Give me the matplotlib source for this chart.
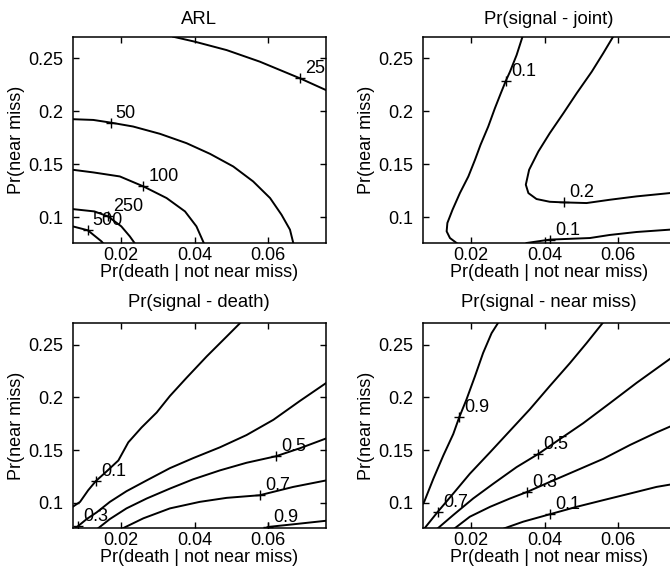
import matplotlib.pyplot as plt

plt.rcParams['font.family'] = ['Liberation Sans', 'DejaVu Sans']
plt.rcParams['font.size'] = 13

# axis ticks shared by all four panels
x_ticks = [0.02, 0.04, 0.06]
x_tick_labels = ['0.02', '0.04', '0.06']
y_ticks = [0.1, 0.15, 0.2, 0.25]
y_tick_labels = ['0.1', '0.15', '0.2', '0.25']

# ARL contours
arl_levels = ['25', '50', '100', '250', '500']
arl_x = [
    [0.0342, 0.0401, 0.0487, 0.0577, 0.0686, 0.0756],
    [0.0069, 0.0125, 0.0172, 0.0233, 0.0306, 0.0378, 0.0442, 0.0505, 0.0559, 0.0605, 0.0636, 0.0659, 0.0668],
    [0.0069, 0.0125, 0.0197, 0.0261, 0.0324, 0.0374, 0.0405, 0.0425],
    [0.0069, 0.0128, 0.0165, 0.0201, 0.0224, 0.0237],
    [0.0069, 0.0110, 0.0147, 0.0151],
]
arl_y = [
    [0.2704, 0.2657, 0.2578, 0.2469, 0.2312, 0.2202],
    [0.1926, 0.1919, 0.1894, 0.1857, 0.1788, 0.1700, 0.1599, 0.1480, 0.1339, 0.1182, 0.1025, 0.0884, 0.0758],
    [0.1449, 0.1424, 0.1386, 0.1292, 0.1182, 0.1056, 0.0915, 0.0758],
    [0.1078, 0.1056, 0.1009, 0.0915, 0.0821, 0.0758],
    [0.0915, 0.0878, 0.0774, 0.0758],
]
arl_label_x = [0.0686, 0.0172, 0.0261, 0.0165, 0.0110]
arl_label_y = [0.2312, 0.1894, 0.1292, 0.1009, 0.0878]

# Pr(signal - joint)
joint_levels = ['0.1', '0.2', '0.1']
joint_x = [
    [0.0340, 0.0324, 0.0306, 0.0295, 0.0281, 0.0265, 0.0247, 0.0226, 0.0211, 0.0193, 0.0170, 0.0150, 0.0136, 0.0134, 0.0143, 0.0161],
    [0.0586, 0.0559, 0.0528, 0.0487, 0.0451, 0.0414, 0.0383, 0.0358, 0.0349, 0.0356, 0.0378, 0.0414, 0.0453, 0.0514, 0.0577, 0.0650, 0.0740, 0.0756],
    [0.0351, 0.0414, 0.0523, 0.0577, 0.0650, 0.0740, 0.0756],
]
joint_y = [
    [0.2704, 0.2531, 0.2374, 0.2290, 0.2170, 0.2029, 0.1857, 0.1684, 0.1543, 0.1386, 0.1229, 0.1072, 0.0947, 0.0868, 0.0805, 0.0758],
    [0.2704, 0.2547, 0.2374, 0.2170, 0.1982, 0.1794, 0.1621, 0.1449, 0.1308, 0.1229, 0.1173, 0.1147, 0.1141, 0.1135, 0.1166, 0.1198, 0.1229, 0.1235],
    [0.0758, 0.0790, 0.0805, 0.0834, 0.0862, 0.0884, 0.0890],
]
joint_label_x = [0.0295, 0.0453, 0.0414]
joint_label_y = [0.2290, 0.1141, 0.0790]

# Pr(signal - death)
death_levels = ['0.1', '0.3', '0.5', '0.7', '0.9']
death_x = [
    [0.0069, 0.0089, 0.0111, 0.0132, 0.0161, 0.0193, 0.0220, 0.0256, 0.0297, 0.0333, 0.0378, 0.0433, 0.0487, 0.0523],
    [0.0075, 0.0083, 0.0107, 0.0134, 0.0170, 0.0215, 0.0270, 0.0333, 0.0396, 0.0469, 0.0541, 0.0614, 0.0686, 0.0758],
    [0.0138, 0.0170, 0.0215, 0.0270, 0.0333, 0.0396, 0.0469, 0.0541, 0.0621, 0.0686, 0.0758],
    [0.0205, 0.0261, 0.0333, 0.0414, 0.0487, 0.0577, 0.0668, 0.0758],
    [0.0591, 0.0600, 0.0668, 0.0758],
]
death_y = [
    [0.0962, 0.1009, 0.1119, 0.1207, 0.1298, 0.1402, 0.1574, 0.1715, 0.1857, 0.2014, 0.2186, 0.2390, 0.2578, 0.2704],
    [0.0758, 0.0777, 0.0846, 0.0909, 0.1009, 0.1110, 0.1213, 0.1329, 0.1424, 0.1527, 0.1643, 0.1788, 0.1967, 0.2139],
    [0.0758, 0.0846, 0.0947, 0.1041, 0.1135, 0.1223, 0.1308, 0.1380, 0.1442, 0.1518, 0.1612],
    [0.0758, 0.0853, 0.0947, 0.1009, 0.1047, 0.1072, 0.1151, 0.1213],
    [0.0758, 0.0771, 0.0796, 0.0830],
]
death_label_x = [0.0132, 0.0083, 0.0621, 0.0577, 0.0600]
death_label_y = [0.1207, 0.0777, 0.1442, 0.1072, 0.0771]

# Pr(signal - near miss)
near_levels = ['0.9', '0.7', '0.5', '0.3', '0.1']
near_x = [
    [0.0069, 0.0073, 0.0098, 0.0125, 0.0152, 0.0168, 0.0188, 0.0211, 0.0233, 0.0256, 0.0273],
    [0.0074, 0.0110, 0.0152, 0.0197, 0.0252, 0.0306, 0.0360, 0.0414, 0.0469, 0.0514, 0.0557],
    [0.0110, 0.0152, 0.0206, 0.0261, 0.0324, 0.0383, 0.0442, 0.0505, 0.0577, 0.0650, 0.0740, 0.0756],
    [0.0156, 0.0197, 0.0252, 0.0306, 0.0353, 0.0414, 0.0487, 0.0559, 0.0632, 0.0704, 0.0756],
    [0.0291, 0.0342, 0.0416, 0.0487, 0.0559, 0.0632, 0.0704, 0.0756],
]
near_y = [
    [0.0990, 0.1009, 0.1229, 0.1449, 0.1653, 0.1810, 0.1982, 0.2202, 0.2422, 0.2610, 0.2704],
    [0.0758, 0.0915, 0.1088, 0.1276, 0.1480, 0.1684, 0.1888, 0.2108, 0.2327, 0.2516, 0.2704],
    [0.0758, 0.0884, 0.1041, 0.1182, 0.1339, 0.1464, 0.1606, 0.1756, 0.1945, 0.2139, 0.2365, 0.2396],
    [0.0758, 0.0868, 0.0962, 0.1041, 0.1104, 0.1198, 0.1308, 0.1417, 0.1549, 0.1668, 0.1747],
    [0.0758, 0.0821, 0.0893, 0.0962, 0.1025, 0.1088, 0.1151, 0.1182],
]
near_label_x = [0.0168, 0.0110, 0.0383, 0.0353, 0.0416]
near_label_y = [0.1810, 0.0915, 0.1464, 0.1104, 0.0893]


def draw_panel(ax, title, xs, ys, levels, lx, ly, title_pad):
    for x, y in zip(xs, ys):
        ax.plot(x, y, color='black', lw=1.4)
    ax.plot(lx, ly, '+', color='black', ms=7, mew=1.0)
    for t, a, b in zip(levels, lx, ly):
        ax.annotate(t, (a, b), xytext=(5, 5), textcoords='offset pixels',
                    ha='left', va='baseline')
    ax.set_xlim(0.0069, 0.0756)
    ax.set_ylim(0.0758, 0.2704)
    ax.set_xticks(x_ticks)
    ax.set_xticklabels(x_tick_labels)
    ax.set_yticks(y_ticks)
    ax.set_yticklabels(y_tick_labels)
    ax.tick_params(axis='both', direction='in', top=True, right=True, length=4, width=1)
    ax.tick_params(axis='x', pad=3)
    ax.tick_params(axis='y', pad=7)
    for s in ax.spines.values():
        s.set_linewidth(1.1)
    ax.set_title(title, pad=title_pad, fontsize=13.3)
    ax.set_xlabel('Pr(death | not near miss)', labelpad=0)
    ax.set_ylabel('Pr(near miss)', labelpad=2)


fig = plt.figure(figsize=(6.70, 5.73), dpi=100)
ax1 = fig.add_axes([0.1085, 0.5759, 0.3776, 0.3600])
ax2 = fig.add_axes([0.6309, 0.5759, 0.3776, 0.3600])
ax3 = fig.add_axes([0.1085, 0.0780, 0.3776, 0.3578])
ax4 = fig.add_axes([0.6309, 0.0780, 0.3776, 0.3578])

draw_panel(ax1, 'ARL', arl_x, arl_y, arl_levels, arl_label_x, arl_label_y, 9.4)
draw_panel(ax2, 'Pr(signal - joint)', joint_x, joint_y, joint_levels, joint_label_x, joint_label_y, 9.4)
draw_panel(ax3, 'Pr(signal - death)', death_x, death_y, death_levels, death_label_x, death_label_y, 11.5)
draw_panel(ax4, 'Pr(signal - near miss)', near_x, near_y, near_levels, near_label_x, near_label_y, 11.5)

fig.savefig('out.png', dpi=100)
